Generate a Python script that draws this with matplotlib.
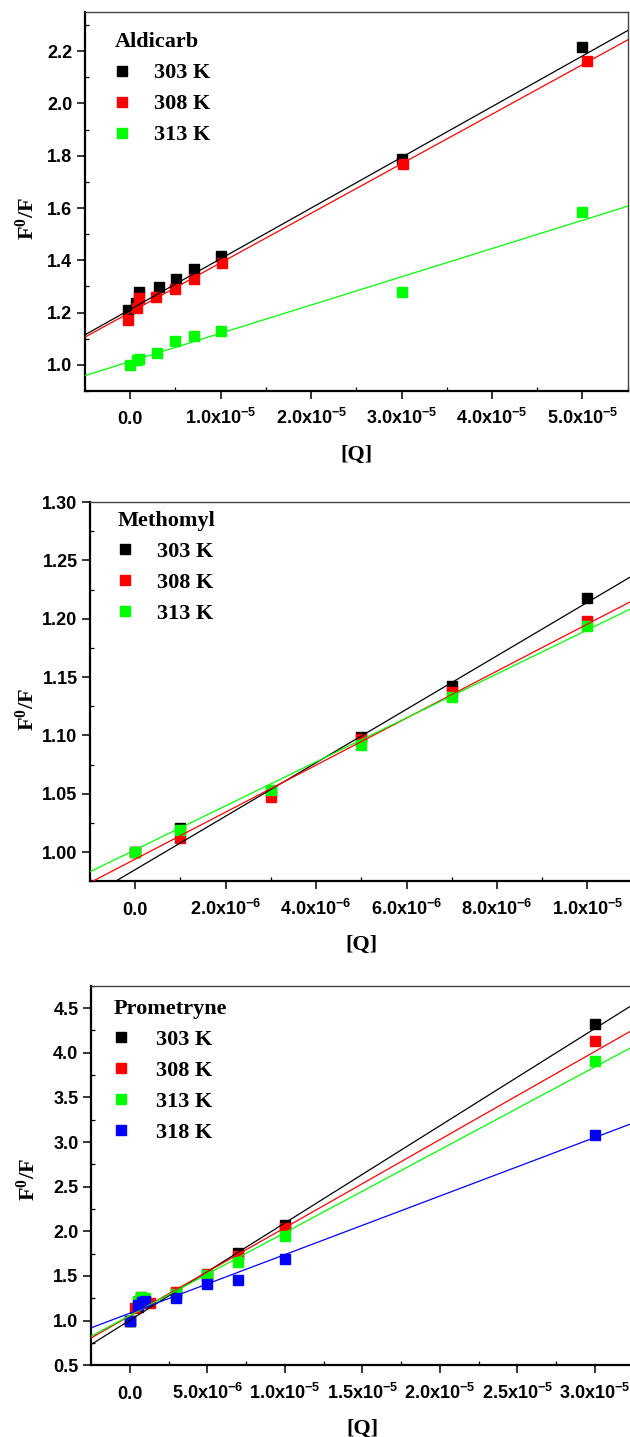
import numpy as np
import matplotlib
matplotlib.use("Agg")
import matplotlib.pyplot as plt
from matplotlib.ticker import MultipleLocator, FuncFormatter
from matplotlib.font_manager import FontProperties

plt.rcParams['font.family'] = ['Liberation Sans', 'DejaVu Sans']
plt.rcParams['font.weight'] = 'bold'
plt.rcParams['mathtext.default'] = 'regular'

# ---------------- data ----------------
temps3 = ["303 K", "308 K", "313 K"]
temps4 = ["303 K", "308 K", "313 K", "318 K"]
colors = ["#000000", "#FF0000", "#00FF00", "#0000FF"]

# Aldicarb
ald_x_303 = [-0.02e-5, 0.06e-5, 0.10e-5, 0.32e-5, 0.51e-5, 0.70e-5, 1.00e-5, 3.00e-5, 5.00e-5]
ald_y_303 = [1.210, 1.238, 1.280, 1.297, 1.330, 1.365, 1.415, 1.787, 2.218]
ald_x_308 = [-0.02e-5, 0.07e-5, 0.10e-5, 0.28e-5, 0.49e-5, 0.71e-5, 1.01e-5, 3.02e-5, 5.05e-5]
ald_y_308 = [1.172, 1.219, 1.255, 1.259, 1.290, 1.328, 1.389, 1.769, 2.164]
ald_x_313 = [0.00e-5, 0.07e-5, 0.10e-5, 0.30e-5, 0.50e-5, 0.70e-5, 1.00e-5, 3.00e-5, 5.00e-5]
ald_y_313 = [1.000, 1.019, 1.022, 1.047, 1.090, 1.111, 1.131, 1.278, 1.584]
ald_intercept = [1.212, 1.201, 1.013]
ald_slope = [1.94e4, 1.895e4, 1.08e4]

# Methomyl
met_x = [0, 1e-6, 3e-6, 5e-6, 7e-6, 1e-5]
met_y_303 = [1.000, 1.021, 1.052, 1.099, 1.142, 1.218]
met_y_308 = [1.000, 1.012, 1.047, 1.097, 1.137, 1.198]
met_y_313 = [1.000, 1.019, 1.053, 1.092, 1.133, 1.194]
met_intercept = [0.985, 0.994, 1.002]
met_slope = [2.29e4, 2.014e4, 1.884e4]

# Prometryne
pro_x_303 = [0, 0.5e-6, 0.7e-6, 1.0e-6, 3e-6, 5e-6, 7e-6, 1e-5, 3e-5]
pro_y_303 = [1.000, 1.150, 1.250, 1.220, 1.310, 1.500, 1.755, 2.072, 4.324]
pro_x_308 = [0, 0.35e-6, 0.7e-6, 1.3e-6, 3e-6, 5e-6, 7e-6, 1e-5, 3e-5]
pro_y_308 = [1.000, 1.140, 1.270, 1.200, 1.318, 1.520, 1.720, 2.042, 4.126]
pro_x_313 = [0, 0.5e-6, 0.7e-6, 1.0e-6, 3e-6, 5e-6, 7e-6, 1e-5, 3e-5]
pro_y_313 = [1.000, 1.220, 1.265, 1.250, 1.300, 1.512, 1.661, 1.949, 3.902]
pro_x_318 = [0, 0.5e-6, 0.8e-6, 1.0e-6, 3e-6, 5e-6, 7e-6, 1e-5, 3e-5]
pro_y_318 = [1.000, 1.175, 1.210, 1.220, 1.254, 1.411, 1.456, 1.691, 3.073]
pro_intercept = [1.004, 1.053, 1.057, 1.083]
pro_slope = [1.089e5, 9.87e4, 9.28e4, 6.56e4]

# ---------------- styling helpers ----------------
W, H = 630, 1437
fig = plt.figure(figsize=(W / 100, H / 100), dpi=100)

serif = FontProperties(family='Liberation Serif', weight='bold', size=16)


def sci_fmt(v, pos):
    if abs(v) < 1e-12:
        return "0.0"
    e = int(np.floor(np.log10(abs(v)) + 1e-9))
    m = v / 10 ** e
    return "%.1fx10$^{%d}$" % (m, e)


def style(ax, xmaj, xmin, ymaj, ymin, yfmt):
    ax.xaxis.set_major_locator(MultipleLocator(xmaj))
    ax.xaxis.set_minor_locator(MultipleLocator(xmin))
    ax.yaxis.set_major_locator(MultipleLocator(ymaj))
    ax.yaxis.set_minor_locator(MultipleLocator(ymin))
    ax.xaxis.set_major_formatter(FuncFormatter(sci_fmt))
    ax.yaxis.set_major_formatter(FuncFormatter(lambda v, p: yfmt % v))
    ax.tick_params(which='major', direction='out', length=6, width=1.1,
                   top=False, right=False, labelsize=13)
    ax.tick_params(which='minor', direction='in', length=3, width=0.9,
                   top=False, right=False)
    ax.tick_params(axis='x', which='major', pad=18)
    ax.tick_params(axis='y', which='major', pad=3)
    for t in ax.xaxis.get_major_ticks():
        t.label1.set_verticalalignment('baseline')
    ax.spines['left'].set_linewidth(1.6)
    ax.spines['bottom'].set_linewidth(1.6)
    ax.spines['top'].set_linewidth(1.0)
    ax.spines['top'].set_color('#444444')
    ax.spines['right'].set_linewidth(1.0)
    ax.spines['right'].set_color('#444444')
    ax.set_xlabel('[Q]', fontproperties=serif, labelpad=12)
    ax.set_ylabel('F$^{0}$/F', fontproperties=serif)


def fit_lines(ax, intercepts, slopes):
    xl = np.array(ax.get_xlim())
    for b, k, c in zip(intercepts, slopes, colors):
        ax.plot(xl, b + k * xl, color=c, lw=0.9, zorder=3)


def legend(ax, title, anchor, pad):
    ax.legend(title=title, loc='upper left', bbox_to_anchor=anchor,
              frameon=False, prop=serif, title_fontproperties=serif,
              alignment='left', handlelength=0.6, handletextpad=pad,
              labelspacing=0.47, borderpad=0, borderaxespad=0,
              markerscale=1.0)


def px_axes(left, top, right, bottom):
    return fig.add_axes([left / W, 1 - bottom / H, (right - left) / W, (bottom - top) / H])


ms = 6.7

# ---------------- panel 1: Aldicarb ----------------
ax1 = px_axes(85, 12, 627.7, 391)
ax1.set_xlim(-0.5e-5, 5.5e-5)
ax1.set_ylim(0.90, 2.35)
for xs, ys, c, lab in zip([ald_x_303, ald_x_308, ald_x_313],
                          [ald_y_303, ald_y_308, ald_y_313], colors, temps3):
    ax1.plot(xs, ys, 's', color=c, ms=ms, mec=c, label=lab, zorder=2)
fit_lines(ax1, ald_intercept, ald_slope)
ax1.set_xlim(-0.5e-5, 5.5e-5)
style(ax1, 1e-5, 0.5e-5, 0.2, 0.1, "%.1f")
ax1.yaxis.set_label_coords(-0.085, 0.454)
legend(ax1, "Aldicarb", (0.0553, 0.946), 1.15)

# ---------------- panel 2: Methomyl ----------------
ax2 = px_axes(90, 502, 632.6, 881.3)
ax2.set_xlim(-1e-6, 1.1e-5)
ax2.set_ylim(0.975, 1.30)
for ys, c, lab in zip([met_y_303, met_y_308, met_y_313], colors, temps3):
    ax2.plot(met_x, ys, 's', color=c, ms=ms, mec=c, label=lab, zorder=2)
fit_lines(ax2, met_intercept, met_slope)
ax2.set_xlim(-1e-6, 1.1e-5)
style(ax2, 2e-6, 1e-6, 0.05, 0.025, "%.2f")
ax2.yaxis.set_label_coords(-0.094, 0.452)
legend(ax2, "Methomyl", (0.0516, 0.977), 1.14)

# ---------------- panel 3: Prometryne ----------------
ax3 = px_axes(91, 985.7, 633.7, 1365.3)
ax3.set_xlim(-2.5e-6, 3.25e-5)
ax3.set_ylim(0.5, 4.75)
for xs, ys, c, lab in zip([pro_x_303, pro_x_308, pro_x_313, pro_x_318],
                          [pro_y_303, pro_y_308, pro_y_313, pro_y_318], colors, temps4):
    ax3.plot(xs, ys, 's', color=c, ms=ms, mec=c, label=lab, zorder=2)
fit_lines(ax3, pro_intercept, pro_slope)
ax3.set_xlim(-2.5e-6, 3.25e-5)
style(ax3, 5e-6, 2.5e-6, 0.5, 0.25, "%.1f")
ax3.yaxis.set_label_coords(-0.095, 0.488)
legend(ax3, "Prometryne", (0.0424, 0.966), 1.3)

fig.savefig("out.png", dpi=100)
